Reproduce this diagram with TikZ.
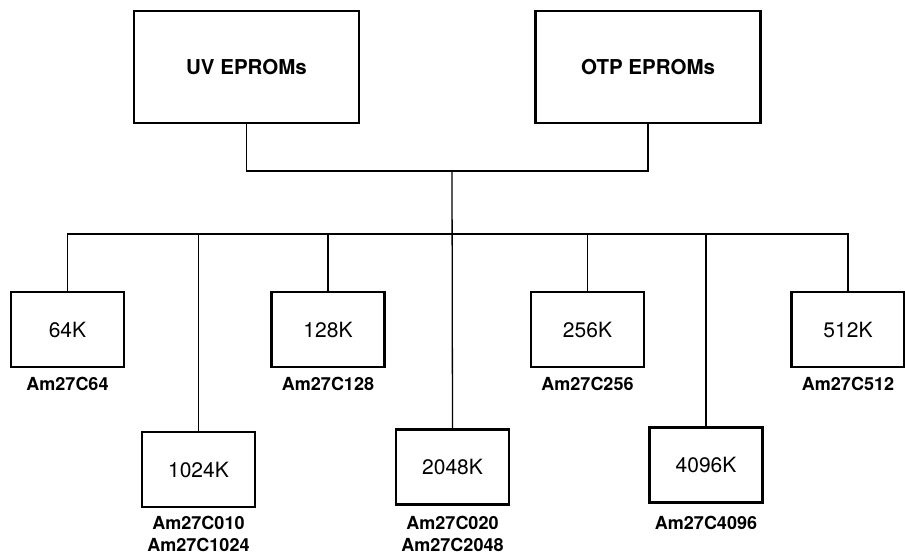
\documentclass[tikz,border=0pt]{standalone}
\usepackage{fontspec}
\setmainfont{TeX Gyre Heros}
\begin{document}
\begin{tikzpicture}[x=1pt,y=-1pt,
  topbox/.style={draw, line width=2.4pt, minimum width=225pt, minimum height=112pt, font=\fontsize{20.5}{22}\selectfont\bfseries, inner sep=0pt},
  membox/.style={draw, line width=2.4pt, minimum width=113pt, minimum height=75pt, font=\fontsize{21}{24}\selectfont, inner sep=0pt},
  partlbl/.style={font=\fontsize{18}{22}\selectfont\bfseries, align=center, anchor=north, inner sep=0pt},
  conn/.style={line width=1.3pt}]
\path[use as bounding box, fill=white] (0,0) rectangle (905,555);
\node[topbox] (uv) at (246.5,67) {UV EPROMs};
\node[topbox] (otp) at (648,67) {OTP EPROMs};
\coordinate (j) at (452,171);
\coordinate (b) at (452,234);
\node[membox] (n64) at (67.5,329.5) {64K};
\node[membox] (n128) at (328,329.5) {128K};
\node[membox] (n256) at (587.5,329.5) {256K};
\node[membox] (n512) at (848,329.5) {512K};
\node[membox] (n1024) at (198.5,469.5) {1024K};
\node[membox] (n2048) at (452.5,467) {2048K};
\node[membox] (n4096) at (706,465) {4096K};
\node[partlbl] (l64) at (67.5,377) {Am27C64};
\node[partlbl] (l128) at (328,377) {Am27C128};
\node[partlbl] (l256) at (587.5,377) {Am27C256};
\node[partlbl] (l512) at (848,377) {Am27C512};
\node[partlbl] (l1024) at (198.5,516) {Am27C010\\Am27C1024};
\node[partlbl] (l2048) at (452.5,516) {Am27C020\\Am27C2048};
\node[partlbl] (l4096) at (706,516) {Am27C4096};
\draw[conn] (uv.south) |- (j) -| (otp.south);
\draw[conn] (j) -- (n2048.north);
\draw[conn] (n64.north) -- (n64.north |- b) -- (n512.north |- b) -- (n512.north);
\draw[conn] (n128.north) -- (n128.north |- b);
\draw[conn] (n256.north) -- (n256.north |- b);
\draw[conn] (n1024.north) -- (n1024.north |- b);
\draw[conn] (n4096.north) -- (n4096.north |- b);
\end{tikzpicture}
\end{document}
